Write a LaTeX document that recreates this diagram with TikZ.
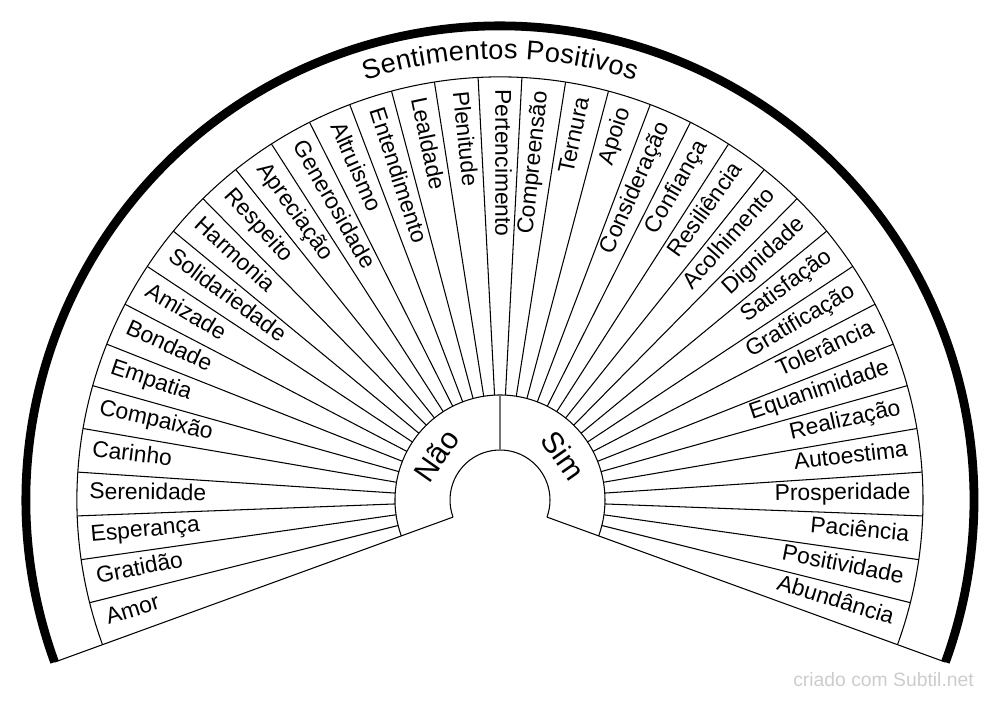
\documentclass[tikz,border=0pt]{standalone}
\usepackage{fontspec}
\setmainfont{Liberation Sans}
\usepackage{tikz}
\usetikzlibrary{decorations.text}
\newcommand{\wordfont}{\fontsize{13}{15}\selectfont}

\begin{document}
\begin{tikzpicture}[
        x=0.02cm, y=0.02cm,
        thinline/.style={line width=0.6pt},
        leftword/.style={anchor=west, inner sep=0pt, font=\wordfont, text height=1.5ex, text depth=0.5ex},
        rightword/.style={anchor=east, inner sep=0pt, font=\wordfont, text height=1.5ex, text depth=0.5ex},
        ringword/.style={inner sep=0pt, font=\fontsize{17}{19}\selectfont}
    ]
        \useasboundingbox (-500,-202) rectangle (500,500);

        \draw[line width=5pt] (200:474) arc[start angle=200, end angle=-20, radius=474];
        \draw[thinline] (200:423) arc[start angle=200, end angle=-20, radius=423];
        \draw[thinline] (200:105) arc[start angle=200, end angle=-20, radius=105];
        \draw[thinline] (200:50) arc[start angle=200, end angle=-20, radius=50];
        \draw[thinline] (200:50) -- (200:474);
        \draw[thinline] (-20:50) -- (-20:474);
        \draw[line width=1pt, black!55] (90:50) -- (90:105);

        \draw[thinline]
            (194.05:105) -- (194.05:423) (188.11:105) -- (188.11:423)
            (182.16:105) -- (182.16:423) (176.22:105) -- (176.22:423)
            (170.27:105) -- (170.27:423) (164.32:105) -- (164.32:423)
            (158.38:105) -- (158.38:423) (152.43:105) -- (152.43:423)
            (146.49:105) -- (146.49:423) (140.54:105) -- (140.54:423)
            (134.59:105) -- (134.59:423) (128.65:105) -- (128.65:423)
            (122.70:105) -- (122.70:423) (116.76:105) -- (116.76:423)
            (110.81:105) -- (110.81:423) (104.86:105) -- (104.86:423)
            (98.92:105) -- (98.92:423) (92.97:105) -- (92.97:423)
            (87.03:105) -- (87.03:423) (81.08:105) -- (81.08:423)
            (75.14:105) -- (75.14:423) (69.19:105) -- (69.19:423)
            (63.24:105) -- (63.24:423) (57.30:105) -- (57.30:423)
            (51.35:105) -- (51.35:423) (45.41:105) -- (45.41:423)
            (39.46:105) -- (39.46:423) (33.51:105) -- (33.51:423)
            (27.57:105) -- (27.57:423) (21.62:105) -- (21.62:423)
            (15.68:105) -- (15.68:423) (9.73:105) -- (9.73:423)
            (3.78:105) -- (3.78:423) (-2.16:105) -- (-2.16:423)
            (-8.11:105) -- (-8.11:423) (-14.05:105) -- (-14.05:423);

        \path[decorate, decoration={text along path, text align={fit to path},
            text={|\fontsize{15.5}{17}\selectfont|Sentimentos Positivos}}]
            (107.8:441) arc[start angle=107.8, end angle=72.2, radius=441];

        \node[ringword, rotate=55] (nao) at (145:77.5) {Não};
        \node[ringword, rotate=-55] (sim) at (35:77.5) {Sim};

        \node[leftword, rotate=17.03] (amor) at (197.03:411) {Amor};
        \node[leftword, rotate=11.08] (gratidao) at (191.08:411) {Gratidão};
        \node[leftword, rotate=5.14] (esperanca) at (185.14:411) {Esperança};
        \node[leftword, rotate=-0.81] (serenidade) at (179.19:411) {Serenidade};
        \node[leftword, rotate=-6.76] (carinho) at (173.24:411) {Carinho};
        \node[leftword, rotate=-12.70] (compaixao) at (167.30:411) {Compaixão};
        \node[leftword, rotate=-18.65] (empatia) at (161.35:411) {Empatia};
        \node[leftword, rotate=-24.59] (bondade) at (155.41:411) {Bondade};
        \node[leftword, rotate=-30.54] (amizade) at (149.46:411) {Amizade};
        \node[leftword, rotate=-36.49] (solidariedade) at (143.51:411) {Solidariedade};
        \node[leftword, rotate=-42.43] (harmonia) at (137.57:411) {Harmonia};
        \node[leftword, rotate=-48.38] (respeito) at (131.62:411) {Respeito};
        \node[leftword, rotate=-54.32] (apreciacao) at (125.68:411) {Apreciação};
        \node[leftword, rotate=-60.27] (generosidade) at (119.73:411) {Generosidade};
        \node[leftword, rotate=-66.22] (altruismo) at (113.78:411) {Altruismo};
        \node[leftword, rotate=-72.16] (entendimento) at (107.84:411) {Entendimento};
        \node[leftword, rotate=-78.11] (lealdade) at (101.89:411) {Lealdade};
        \node[leftword, rotate=-84.05] (plenitude) at (95.95:411) {Plenitude};
        \node[leftword, rotate=-90] (pertencimento) at (90:411) {Pertencimento};

        \node[rightword, rotate=84.05] (compreensao) at (84.05:411) {Compreensão};
        \node[rightword, rotate=78.11] (ternura) at (78.11:411) {Ternura};
        \node[rightword, rotate=72.16] (apoio) at (72.16:411) {Apoio};
        \node[rightword, rotate=66.22] (consideracao) at (66.22:411) {Consideração};
        \node[rightword, rotate=60.27] (confianca) at (60.27:411) {Confiança};
        \node[rightword, rotate=54.32] (resiliencia) at (54.32:411) {Resiliência};
        \node[rightword, rotate=48.38] (acolhimento) at (48.38:411) {Acolhimento};
        \node[rightword, rotate=42.43] (dignidade) at (42.43:411) {Dignidade};
        \node[rightword, rotate=36.49] (satisfacao) at (36.49:411) {Satisfação};
        \node[rightword, rotate=30.54] (gratificacao) at (30.54:411) {Gratificação};
        \node[rightword, rotate=24.59] (tolerancia) at (24.59:411) {Tolerância};
        \node[rightword, rotate=18.65] (equanimidade) at (18.65:411) {Equanimidade};
        \node[rightword, rotate=12.70] (realizacao) at (12.70:411) {Realização};
        \node[rightword, rotate=6.76] (autoestima) at (6.76:411) {Autoestima};
        \node[rightword, rotate=0.81] (prosperidade) at (0.81:411) {Prosperidade};
        \node[rightword, rotate=-5.14] (paciencia) at (-5.14:411) {Paciência};
        \node[rightword, rotate=-11.08] (positividade) at (-11.08:411) {Positividade};
        \node[rightword, rotate=-17.03] (abundancia) at (-17.03:411) {Abundância};

        \node[anchor=base east, text=black!20, font=\fontsize{11}{13}\selectfont] (credito) at (480,-187) {criado com Subtil.net};
    \end{tikzpicture}
\end{document}
